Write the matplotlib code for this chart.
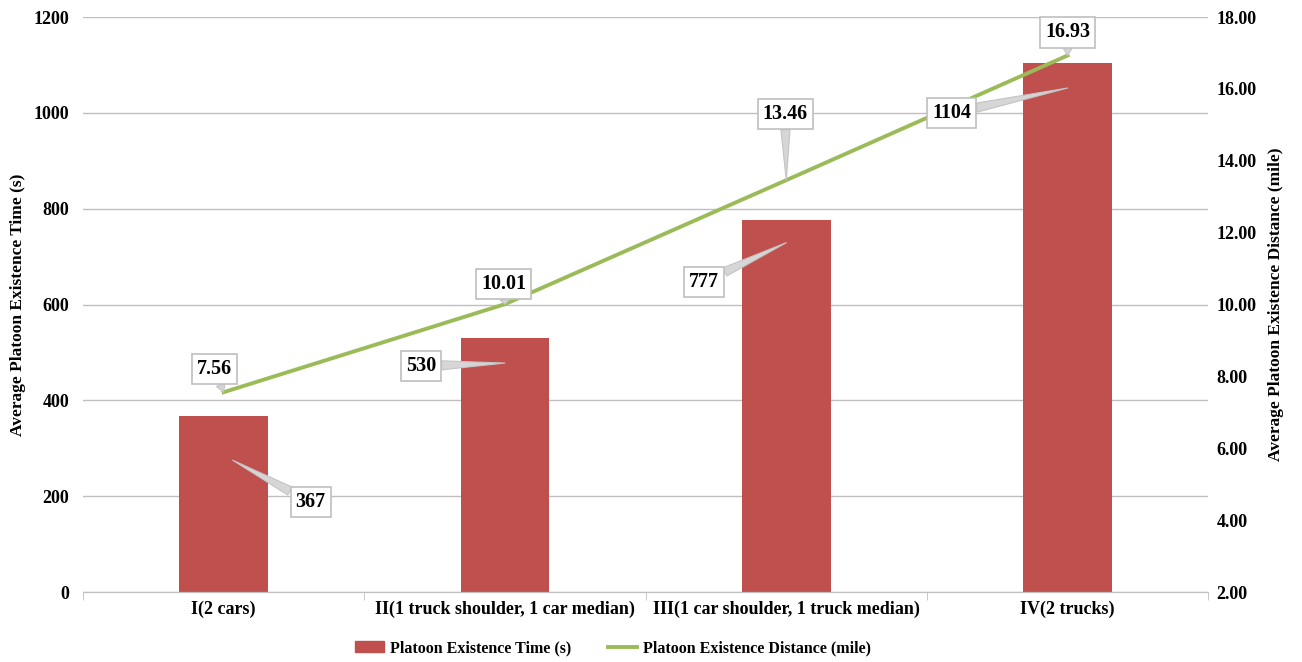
import numpy as np
import matplotlib.pyplot as plt
from matplotlib.transforms import offset_copy
from matplotlib.patches import Patch
from matplotlib.lines import Line2D

categories = ['I(2 cars)', 'II(1 truck shoulder, 1 car median)',
              'III(1 car shoulder, 1 truck median)', 'IV(2 trucks)']
exist_time = [367, 530, 777, 1104]
exist_dist = [7.56, 10.01, 13.46, 16.93]

plt.rcParams['font.family'] = ['Liberation Serif', 'DejaVu Serif']
plt.rcParams['font.weight'] = 'bold'

bar_c = '#C0504D'
line_c = '#9BBB59'
grid_c = '#BFBFBF'

fig = plt.figure(figsize=(13.02, 6.62), dpi=100)
ax = fig.add_axes([0.0637, 0.1057, 0.8643, 0.8686])
ax2 = ax.twinx()

x = np.arange(len(categories))
ax.bar(x, exist_time, width=0.315, color=bar_c, zorder=2)
ax2.plot(x, exist_dist, color=line_c, lw=2.8, zorder=3)

ax.set_xlim(-0.5, 3.5)
ax.set_ylim(0, 1200)
ax.set_yticks(np.arange(0, 1201, 200))
ax2.set_ylim(2, 18)
ax2.set_yticks(np.arange(2, 19, 2))
ax2.set_yticklabels(['%.2f' % v for v in np.arange(2, 19, 2)])

ax.yaxis.grid(True, color=grid_c, lw=1, zorder=0)
ax.set_axisbelow(True)
for a in (ax, ax2):
    for s in ('top', 'right', 'left'):
        a.spines[s].set_visible(False)
    a.spines['bottom'].set_color(grid_c)
ax.tick_params(axis='y', length=0, labelsize=13, pad=10)
ax2.tick_params(axis='y', length=0, labelsize=13, pad=6)

ax.set_xticks(x)
ax.set_xticklabels(categories, fontsize=13, fontweight='bold')
ax.set_xticks(np.arange(-0.5, 3.6, 1), minor=True)
ax.tick_params(axis='x', which='major', length=0, pad=6)
ax.tick_params(axis='x', which='minor', length=6, color=grid_c)

ax.set_ylabel('Average Platoon Existence Time (s)', fontsize=12.5, fontweight='bold', labelpad=5)
ax2.set_ylabel('Average Platoon Existence Distance (mile)', fontsize=12.5, fontweight='bold', labelpad=8)

box = dict(boxstyle='square,pad=0.25', fc='white', ec='#BFBFBF', lw=1.2)
arrow = dict(arrowstyle='wedge,tail_width=0.45', fc='#D6D6D6', ec='#C4C4C4', lw=0.8,
             shrinkA=0, shrinkB=0)

# bar labels: (tip shift from bar top, text offset from tip) in pixels
bar_tip = [(9, -44), (0, -25), (0, -23), (0, -25)]
bar_txt = [(78, -42), (-84, -3), (-82, -39), (-116, -25)]
for i, v in enumerate(exist_time):
    tr = offset_copy(ax.transData, fig=fig, x=bar_tip[i][0], y=bar_tip[i][1], units='dots')
    ax2.annotate(str(v), xy=(i, v), xycoords=tr, xytext=bar_txt[i],
                 textcoords='offset pixels', ha='center', va='center',
                 fontsize=14.5, fontweight='bold', bbox=box, arrowprops=arrow, zorder=5)

line_txt = [(-9, 23), (-1, 20), (-1, 66), (0, 23)]
for i, v in enumerate(exist_dist):
    ax2.annotate('%.2f' % v, xy=(i, v), xycoords='data', xytext=line_txt[i],
                 textcoords='offset pixels', ha='center', va='center',
                 fontsize=14.5, fontweight='bold', bbox=box, arrowprops=arrow, zorder=5)

handles = [Patch(color=bar_c), Line2D([], [], color=line_c, lw=2.8)]
fig.legend(handles, ['Platoon Existence Time (s)', 'Platoon Existence Distance (mile)'],
           loc='center', bbox_to_anchor=(0.471, 0.021), ncol=2, frameon=False,
           fontsize=11.5, handlelength=1.8, handletextpad=0.4, columnspacing=2.3)

fig.savefig('out.png', dpi=100)
